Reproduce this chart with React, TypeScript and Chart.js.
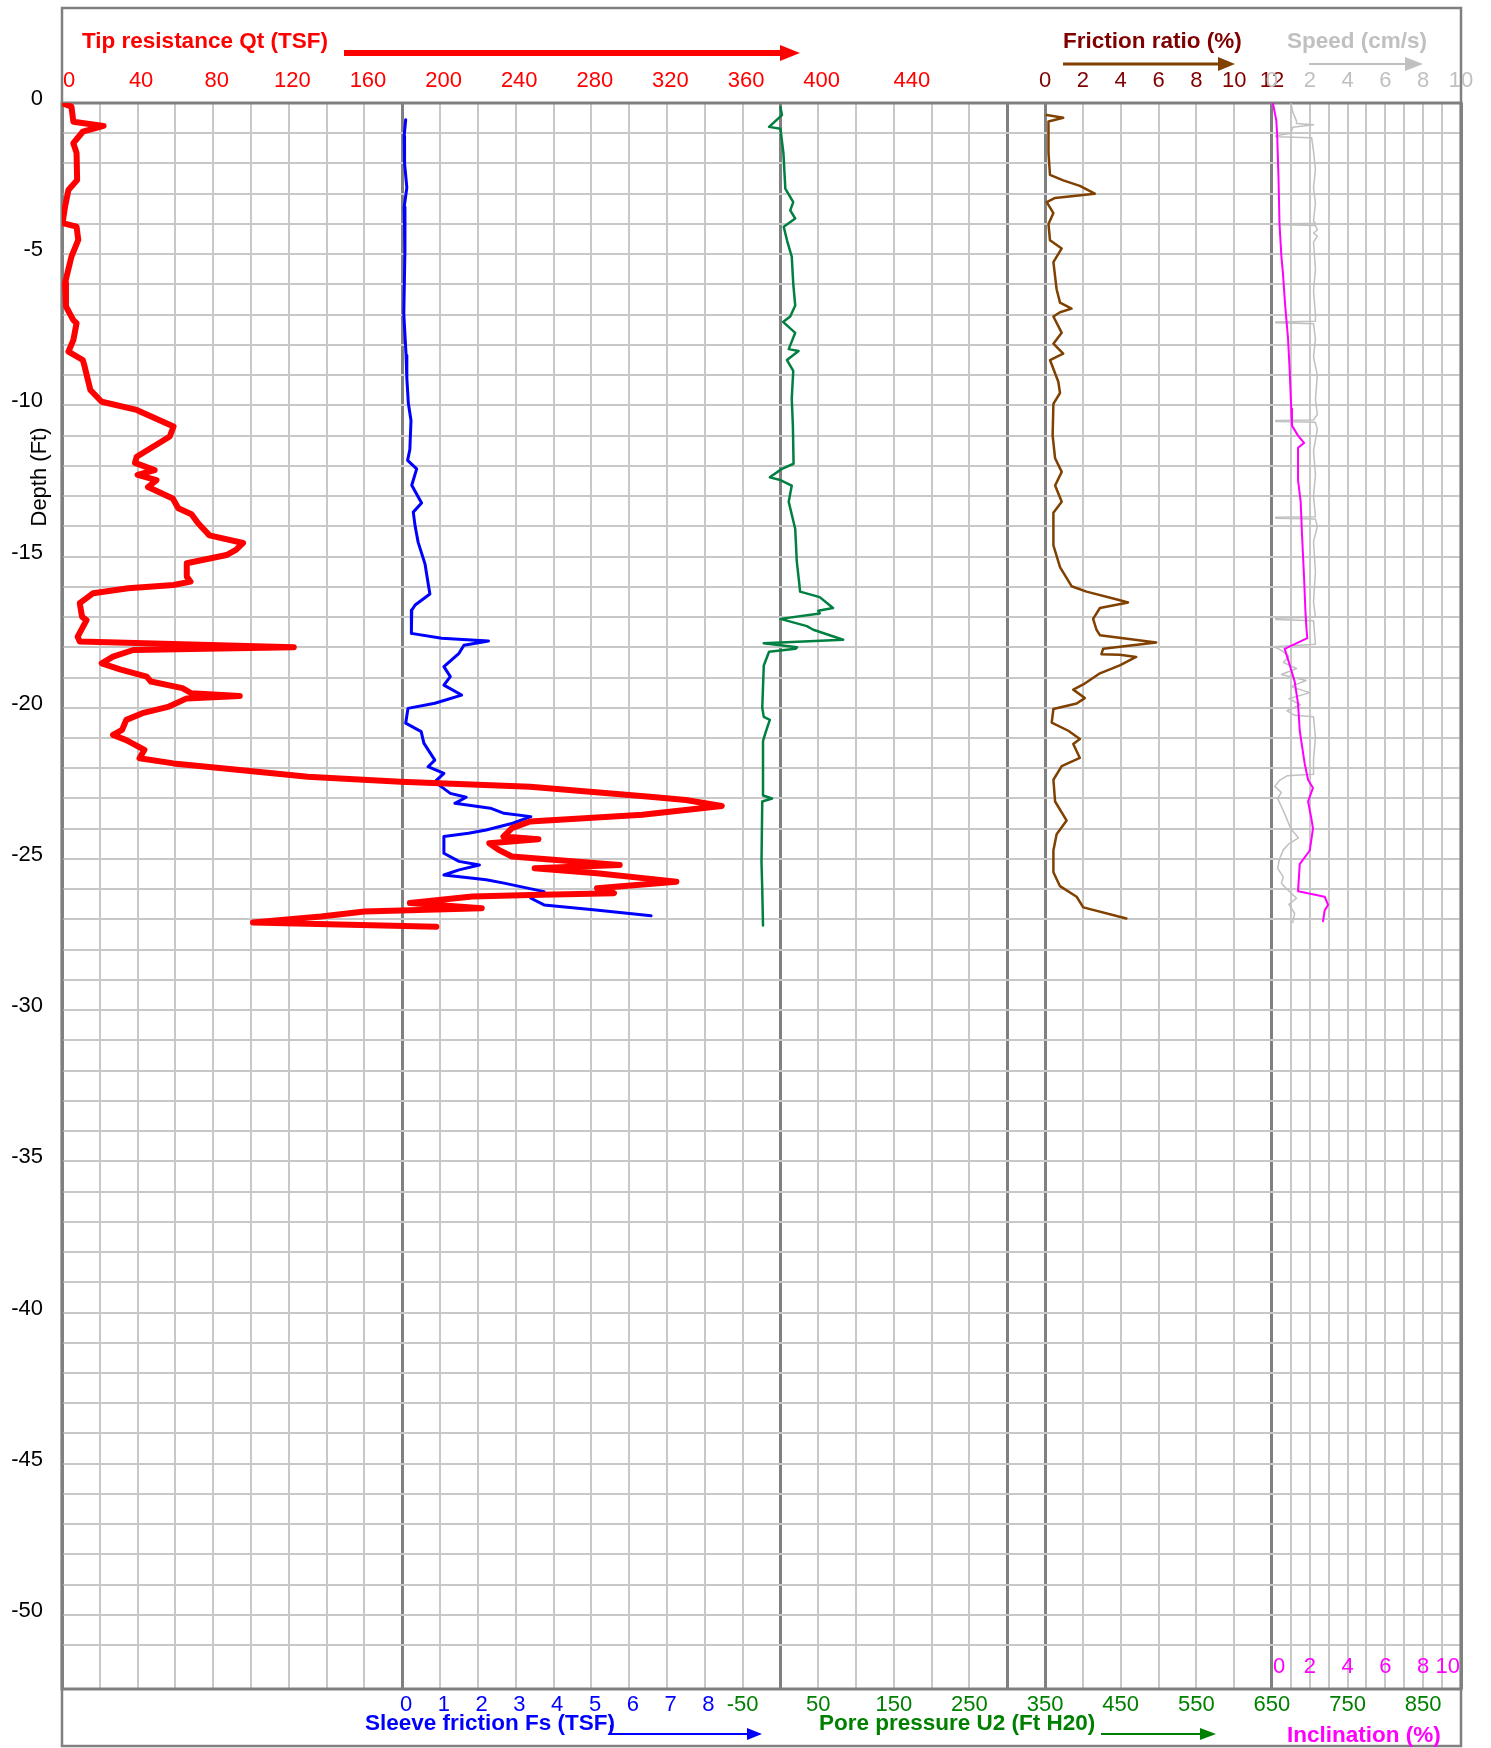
import React, { useEffect, useRef } from 'react';
import { Chart, registerables } from 'chart.js';

Chart.register(...registerables);

const FONT = "'Liberation Sans', Arial, sans-serif";

// [depth (ft, negative downward), value]
const tipResistance: [number, number][] = [
  [0, 0], [-0.12, 5], [-0.62, 6], [-0.76, 22], [-0.95, 11], [-1.33, 6], [-1.65, 7.7], [-2.55, 8],
  [-2.88, 3.4], [-3.43, 1.6], [-3.97, 0.3], [-4.09, 7.7], [-4.53, 8.6], [-5.08, 5], [-5.95, 1.6],
  [-6.73, 2.1], [-7.18, 6], [-7.28, 7.7], [-7.84, 6], [-8.22, 3.4], [-8.5, 11], [-8.72, 12],
  [-9.49, 15], [-9.88, 21], [-10.15, 39.5], [-10.7, 59], [-11.03, 57], [-11.7, 39.5], [-11.9, 38.6],
  [-12.14, 49], [-12.3, 40], [-12.47, 50], [-12.7, 45.5], [-13.08, 58.6], [-13.4, 61.5], [-13.6, 68.5],
  [-13.9, 72], [-14.3, 78], [-14.55, 95.8], [-14.78, 92], [-14.95, 87], [-15.22, 66], [-15.66, 66],
  [-15.83, 68], [-15.94, 59], [-16.05, 35], [-16.21, 16.5], [-16.54, 9.4], [-16.99, 10.6], [-17.1, 13],
  [-17.65, 8.3], [-17.81, 9.4], [-18.0, 122.6], [-18.09, 37.7], [-18.31, 27], [-18.53, 21], [-18.73, 30.7],
  [-18.97, 44.8], [-19.13, 47], [-19.35, 63.7], [-19.52, 68.4], [-19.61, 94], [-19.69, 66], [-19.96, 56.6],
  [-20.18, 42.5], [-20.4, 34], [-20.73, 31.8], [-20.9, 27], [-21.07, 34], [-21.39, 43.6], [-21.67, 41],
  [-21.84, 59], [-22.06, 94], [-22.28, 130], [-22.45, 179], [-22.61, 247.6], [-22.94, 311], [-23.05, 330],
  [-23.25, 349], [-23.54, 307], [-23.76, 247.6], [-23.98, 238], [-24.26, 233.5], [-24.35, 252], [-24.48, 226],
  [-24.7, 231], [-24.92, 238], [-25.2, 295], [-25.31, 250], [-25.47, 283], [-25.75, 325], [-25.97, 283],
  [-26.13, 292], [-26.19, 247.6], [-26.24, 217], [-26.46, 184], [-26.63, 222], [-26.74, 160], [-26.9, 137],
  [-27.1, 101], [-27.24, 198],
];

const sleeveFriction: [number, number][] = [
  [-0.55, 0.09], [-1.08, 0.05], [-2.0, 0.06], [-2.8, 0.12], [-3.44, 0.05], [-4.86, 0.07], [-6.98, 0.04],
  [-8.34, 0.1], [-9.1, 0.12], [-9.93, 0.16], [-10.5, 0.23], [-11.46, 0.2], [-11.82, 0.14], [-12.1, 0.38],
  [-12.64, 0.25], [-13.23, 0.51], [-13.53, 0.29], [-14.0, 0.34], [-14.53, 0.42], [-15.24, 0.6], [-15.94, 0.69],
  [-16.24, 0.73], [-16.6, 0.34], [-16.77, 0.25], [-17.54, 0.24], [-17.7, 1.04], [-17.79, 2.28], [-17.93, 1.63],
  [-18.2, 1.5], [-18.64, 1.1], [-18.97, 1.27], [-19.25, 1.1], [-19.58, 1.57], [-19.85, 0.86], [-20.02, 0.15],
  [-20.51, 0.09], [-20.79, 0.5], [-21.17, 0.57], [-21.73, 0.86], [-21.95, 0.68], [-22.17, 1.1], [-22.45, 0.86],
  [-22.83, 1.27], [-22.96, 1.69], [-23.16, 1.39], [-23.32, 2.33], [-23.49, 2.69], [-23.6, 3.4], [-23.82, 2.92],
  [-24.04, 2.22], [-24.15, 1.75], [-24.26, 1.1], [-24.81, 1.1], [-25.08, 1.5], [-25.2, 2.04], [-25.36, 1.5],
  [-25.53, 1.1], [-25.69, 2.22], [-25.8, 2.69], [-26.08, 3.75], [-26.3, 3.4], [-26.52, 3.75], [-26.68, 5.05],
  [-26.88, 6.58],
];

const porePressure: [number, number][] = [
  [-0.13, 0], [-0.4, 2], [-0.79, -15], [-0.85, 0], [-1.66, 4], [-2.83, 6.5], [-3.28, 17], [-3.55, 13],
  [-3.82, 19.6], [-4.09, 4.4], [-4.54, 8.7], [-5.08, 15], [-5.98, 17], [-6.7, 19.6], [-7.06, 13], [-7.24, 3.5],
  [-7.6, 19.6], [-8.14, 11], [-8.2, 24], [-8.5, 8.7], [-8.86, 17], [-9.77, 15], [-10.67, 16.5], [-11.93, 17.4],
  [-12.1, 2], [-12.38, -14], [-12.47, 0], [-12.65, 15], [-13.19, 11], [-14.09, 19.6], [-15.17, 21.7],
  [-15.9, 25], [-16.16, 26], [-16.34, 52], [-16.7, 69.6], [-16.79, 50], [-16.88, 52], [-17.06, 0],
  [-17.3, 35], [-17.42, 43.5], [-17.75, 83], [-17.87, -22], [-18.0, 22], [-18.05, 20], [-18.15, -15],
  [-18.6, -22], [-20.0, -24], [-20.3, -22], [-20.4, -14], [-20.85, -20], [-21.1, -23], [-22.9, -23],
  [-23.0, -11], [-23.1, -24], [-25.1, -25], [-26.0, -24], [-27.2, -23],
];

const frictionRatio: [number, number][] = [
  [-0.4, 0.09], [-0.49, 0.96], [-0.61, 0.18], [-1.66, 0.18], [-2.38, 0.26], [-2.56, 0.96], [-2.74, 1.84],
  [-3.0, 2.63], [-3.14, 0.53], [-3.28, 0.09], [-3.64, 0.44], [-4.0, 0.18], [-4.54, 0.26], [-4.81, 0.88],
  [-5.26, 0.44], [-6.16, 0.61], [-6.6, 0.79], [-6.8, 1.4], [-6.92, 0.79], [-7.06, 0.44], [-7.6, 0.88],
  [-7.96, 0.44], [-8.29, 0.96], [-8.5, 0.26], [-9.22, 0.7], [-9.59, 0.79], [-9.95, 0.44], [-11.0, 0.4],
  [-11.75, 0.53], [-12.2, 0.88], [-12.65, 0.53], [-13.19, 0.88], [-13.55, 0.44], [-14.63, 0.44],
  [-15.35, 0.79], [-15.98, 1.4], [-16.16, 2.19], [-16.43, 3.86], [-16.52, 4.39], [-16.7, 2.9], [-17.06, 2.54],
  [-17.42, 2.72], [-17.6, 2.9], [-17.84, 5.88], [-18.05, 3.07], [-18.23, 2.98], [-18.25, 3.95], [-18.32, 4.82],
  [-18.6, 3.95], [-18.86, 2.9], [-19.23, 2.02], [-19.4, 1.49], [-19.68, 2.1], [-19.86, 1.67], [-20.04, 0.44],
  [-20.49, 0.35], [-20.76, 1.23], [-21.03, 1.84], [-21.2, 1.49], [-21.66, 1.84], [-21.93, 0.88], [-22.38, 0.44],
  [-23.1, 0.53], [-23.73, 1.14], [-24.18, 0.61], [-24.72, 0.44], [-25.44, 0.44], [-25.9, 0.79], [-26.25, 1.67],
  [-26.6, 2.02], [-26.97, 4.3],
];

const penetrationSpeed: [number, number][] = [
  [0, 1.0], [-0.3, 1.1], [-0.6, 1.3], [-0.68, 1.3], [-0.72, 2.2], [-0.8, 1.1], [-1.0, 1.0], [-1.08, 0.2],
  [-1.12, 0.2], [-1.15, 2.1], [-1.6, 2.2], [-2.2, 2.3], [-2.8, 2.2], [-3.3, 2.3], [-3.9, 2.2], [-3.98, 2.3],
  [-4.0, 0.2], [-4.02, 0.2], [-4.05, 2.3], [-4.2, 2.4], [-4.3, 2.2], [-4.4, 2.4], [-4.6, 2.2], [-5.5, 2.3],
  [-6.2, 2.2], [-7.0, 2.3], [-7.22, 2.3], [-7.24, 0.2], [-7.27, 0.2], [-7.3, 2.2], [-7.8, 2.3], [-8.4, 2.2],
  [-9.0, 2.4], [-9.8, 2.3], [-10.3, 2.4], [-10.48, 2.2], [-10.5, 0.2], [-10.53, 0.2], [-10.56, 2.3],
  [-10.8, 2.4], [-11.5, 2.2], [-12.3, 2.3], [-13.0, 2.2], [-13.68, 2.3], [-13.7, 0.2], [-13.73, 0.2],
  [-13.76, 2.3], [-14.0, 2.4], [-14.5, 2.2], [-15.5, 2.3], [-16.5, 2.2], [-17.0, 2.3], [-17.04, 0.2],
  [-17.08, 0.2], [-17.12, 2.2], [-17.9, 2.3], [-17.98, 0.1], [-18.1, 0.5], [-18.3, 0.9], [-18.5, 0.6],
  [-18.7, 1.3], [-18.9, 0.5], [-19.1, 1.8], [-19.3, 1.0], [-19.5, 2.0], [-19.7, 0.9], [-19.9, 1.5],
  [-20.1, 0.8], [-20.25, 1.2], [-20.3, 2.2], [-21.0, 2.3], [-21.7, 2.2], [-22.2, 2.2], [-22.25, 0.8],
  [-22.4, 0.4], [-22.6, 0.15], [-22.8, 0.5], [-23.0, 0.3], [-23.4, 0.6], [-23.7, 0.8], [-24.0, 1.0],
  [-24.3, 1.4], [-24.5, 0.9], [-24.7, 0.6], [-25.0, 0.4], [-25.3, 0.3], [-25.6, 0.6], [-25.8, 0.5],
  [-26.0, 0.8], [-26.3, 1.3], [-26.5, 0.9], [-26.8, 1.2], [-27.1, 1.1],
];

const inclination: [number, number][] = [
  [0, 0.05], [-0.58, 0.23], [-1.1, 0.28], [-2.56, 0.35], [-4.0, 0.4], [-5.08, 0.5], [-5.62, 0.58],
  [-6.7, 0.7], [-7.78, 0.85], [-8.86, 0.94], [-10.1, 1.02], [-10.67, 1.06], [-11.0, 1.38], [-11.24, 1.7],
  [-11.4, 1.38], [-12.47, 1.38], [-13.19, 1.52], [-14.27, 1.59], [-15.71, 1.7], [-16.79, 1.77],
  [-17.33, 1.82], [-17.7, 1.87], [-18.05, 0.67], [-18.4, 0.85], [-19.13, 1.2], [-19.86, 1.38],
  [-20.76, 1.47], [-21.84, 1.73], [-22.38, 1.91], [-22.65, 2.17], [-23.1, 1.91], [-23.64, 2.08],
  [-24.0, 2.17], [-24.72, 2.0], [-25.17, 1.47], [-26.07, 1.38], [-26.25, 2.79], [-26.52, 2.97],
  [-26.7, 2.79], [-27.06, 2.7],
];

// tick labels
const depthTicks = [0, -5, -10, -15, -20, -25, -30, -35, -40, -45, -50];
const qtTicks = [0, 40, 80, 120, 160, 200, 240, 280, 320, 360, 400, 440];
const fsTicks = [0, 1, 2, 3, 4, 5, 6, 7, 8];
const u2Ticks = [-50, 50, 150, 250, 350, 450, 550, 650, 750, 850];
const rfTicks = [0, 2, 4, 6, 8, 10, 12];
const speedTicks = [0, 2, 4, 6, 8, 10];
const inclinationTicks = [0, 2, 4, 6, 8, 10];
const depthMin = -52.45;
const depthMax = 0;

// panel layout on a common grid (grid units)
const GRID_MAX = 37;
const DARK_LINES = [0, 9, 19, 25, 26, 32, 37];
const FINE_FROM = 32;

function drawArrow(ctx: CanvasRenderingContext2D, x1: number, x2: number, y: number, lw: number, head: number, half: number, color: string) {
  ctx.save();
  ctx.strokeStyle = color;
  ctx.fillStyle = color;
  ctx.lineWidth = lw;
  ctx.beginPath();
  ctx.moveTo(x1, y);
  ctx.lineTo(x2 - head + 2, y);
  ctx.stroke();
  ctx.beginPath();
  ctx.moveTo(x2 - head, y - half);
  ctx.lineTo(x2, y);
  ctx.lineTo(x2 - head, y + half);
  ctx.closePath();
  ctx.fill();
  ctx.restore();
}

function text(ctx: CanvasRenderingContext2D, s: string, x: number, y: number, font: string, color: string, align: CanvasTextAlign = 'center') {
  ctx.font = font;
  ctx.fillStyle = color;
  ctx.textAlign = align;
  ctx.textBaseline = 'alphabetic';
  ctx.fillText(s, x, y);
}

const decorPlugin = {
  id: 'cptDecor',
  beforeDraw(chart: any) {
    const ctx = chart.ctx as CanvasRenderingContext2D;
    const a = chart.chartArea;
    ctx.save();
    ctx.fillStyle = '#ffffff';
    ctx.fillRect(0, 0, chart.width, chart.height);
    ctx.strokeStyle = '#808080';
    ctx.lineWidth = 2.5;
    ctx.strokeRect(a.left, 8, a.right - a.left, chart.height - 2 - 8);
    ctx.restore();
  },
  beforeDatasetsDraw(chart: any) {
    const ctx = chart.ctx as CanvasRenderingContext2D;
    const a = chart.chartArea;
    ctx.save();
    ctx.strokeStyle = '#808080';
    ctx.lineWidth = 3;
    ctx.strokeRect(a.left, a.top, a.right - a.left, a.bottom - a.top);
    ctx.restore();
  },
  afterDraw(chart: any) {
    const ctx = chart.ctx as CanvasRenderingContext2D;
    const s = chart.scales;
    const a = chart.chartArea;
    const tickFont = `22px ${FONT}`;
    const titleFont = `bold 22.5px ${FONT}`;
    ctx.save();

    // depth labels
    depthTicks.forEach((v) => text(ctx, String(v), a.left - 19, s.y.getPixelForValue(v) + 2, tickFont, '#000000', 'right'));

    // top titles
    text(ctx, 'Tip resistance Qt (TSF)', 82, 48, titleFont, '#ff0000', 'left');
    drawArrow(ctx, 344, 800, 53, 6, 20, 8, '#ff0000');
    text(ctx, 'Friction ratio (%)', 1063, 48, titleFont, '#800000', 'left');
    drawArrow(ctx, 1063, 1235, 64, 3, 17, 7, '#804000');
    text(ctx, 'Speed (cm/s)', 1287, 48, titleFont, '#c0c0c0', 'left');
    drawArrow(ctx, 1309, 1423, 64, 2, 18, 7, '#c0c0c0');

    // Qt labels
    qtTicks.forEach((v, i) => {
      const x = s.xQt.getPixelForValue(v);
      if (i === 0) text(ctx, String(v), x + 1, 87, tickFont, '#ff0000', 'left');
      else text(ctx, String(v), x + (v === 440 ? 18 : 3.5), 87, tickFont, '#ff0000');
    });
    rfTicks.forEach((v) => text(ctx, String(v), s.xRf.getPixelForValue(v), 87, tickFont, '#800000'));
    speedTicks.forEach((v) => text(ctx, String(v), s.xSpd.getPixelForValue(v), 87, tickFont, '#c0c0c0'));

    // bottom labels
    fsTicks.forEach((v) => text(ctx, String(v), s.xFs.getPixelForValue(v) + 3.7, 1711, tickFont, '#0000ff'));
    u2Ticks.forEach((v) => text(ctx, String(v), s.xU2.getPixelForValue(v), 1711, tickFont, '#008000'));
    inclinationTicks.forEach((v, i) => {
      const x = s.xInc.getPixelForValue(v);
      if (i === 0) text(ctx, String(v), x + 1, 1673, tickFont, '#ff00ff', 'left');
      else if (i === inclinationTicks.length - 1) text(ctx, String(v), x - 1, 1673, tickFont, '#ff00ff', 'right');
      else text(ctx, String(v), x, 1673, tickFont, '#ff00ff');
    });

    text(ctx, 'Sleeve friction Fs (TSF)', 365, 1730, titleFont, '#0000ff', 'left');
    ctx.strokeStyle = '#0000ff';
    ctx.lineWidth = 2;
    ctx.beginPath();
    ctx.moveTo(611, 1725);
    ctx.lineTo(611, 1734);
    ctx.stroke();
    drawArrow(ctx, 610, 762, 1734, 2, 15, 6, '#0000ff');
    text(ctx, 'Pore pressure U2 (Ft H20)', 819, 1730, titleFont, '#008000', 'left');
    drawArrow(ctx, 1101, 1216, 1734, 2, 16, 6, '#008000');
    text(ctx, 'Inclination (%)', 1287, 1742, titleFont, '#ff00ff', 'left');

    // depth axis title
    ctx.save();
    ctx.translate(46, 477);
    ctx.rotate(-Math.PI / 2);
    text(ctx, 'Depth (Ft)', 0, 0, `22px ${FONT}`, '#000000');
    ctx.restore();

    ctx.restore();
  },
};

function series(points: [number, number][]) {
  return points.map(([d, v]) => ({ x: v, y: d }));
}

export default function App() {
  const ref = useRef<HTMLCanvasElement | null>(null);

  useEffect(() => {
    document.body.style.margin = '0';
    const canvas = ref.current;
    if (!canvas) return;
    Chart.defaults.font.family = FONT;

    const hidden = (min: number, max: number) => ({ type: 'linear', axis: 'x', display: false, min, max });
    const line = (label: string, data: [number, number][], axis: string, color: string, width: number) => ({
      label,
      data: series(data),
      xAxisID: axis,
      yAxisID: 'y',
      showLine: true,
      borderColor: color,
      backgroundColor: color,
      borderWidth: width,
      pointRadius: 0,
      pointHoverRadius: 0,
      tension: 0,
      fill: false,
      borderJoinStyle: 'round',
      borderCapStyle: 'round',
    });

    const chart = new Chart(canvas, {
      type: 'scatter',
      data: {
        datasets: [
          line('Tip resistance Qt (TSF)', tipResistance, 'xQt', '#ff0000', 6),
          line('Sleeve friction Fs (TSF)', sleeveFriction, 'xFs', '#0000ff', 3),
          line('Pore pressure U2 (Ft H20)', porePressure, 'xU2', '#008040', 2.5),
          line('Friction ratio (%)', frictionRatio, 'xRf', '#804000', 2.5),
          line('Inclination (%)', inclination, 'xInc', '#ff00ff', 2),
          line('Speed (cm/s)', penetrationSpeed, 'xSpd', '#c0c0c0', 1.5),
        ] as any,
      },
      options: {
        responsive: false,
        animation: false,
        devicePixelRatio: 1,
        layout: { padding: { left: 62, top: 103, right: 30, bottom: 59 } },
        plugins: { legend: { display: false }, tooltip: { enabled: false } },
        events: [],
        scales: {
          x: {
            type: 'linear',
            axis: 'x',
            position: 'bottom',
            min: 0,
            max: GRID_MAX,
            ticks: { display: false, stepSize: 0.5, autoSkip: false, maxTicksLimit: 200 },
            grid: {
              drawTicks: false,
              color: (c: any) => {
                const v = c.tick ? c.tick.value : 0;
                if (DARK_LINES.some((d) => Math.abs(d - v) < 1e-6)) return '#808080';
                if (Math.abs(v - Math.round(v)) > 1e-6 && v < FINE_FROM) return 'rgba(0,0,0,0)';
                return '#c8c8c8';
              },
              lineWidth: (c: any) => {
                const v = c.tick ? c.tick.value : 0;
                return DARK_LINES.some((d) => Math.abs(d - v) < 1e-6) ? 3 : 2;
              },
            },
            border: { display: false },
            afterFit: (sc: any) => { sc.height = 0; },
          },
          xQt: hidden(0, 740),
          xFs: hidden(-9, 28),
          xU2: hidden(-950, 900),
          xRf: hidden(-52, 22),
          xSpd: hidden(-64, 10),
          xInc: hidden(-64, 10),
          y: {
            type: 'linear',
            position: 'left',
            min: depthMin,
            max: depthMax,
            ticks: { display: false, stepSize: 1, autoSkip: false, maxTicksLimit: 200 },
            grid: { color: '#c8c8c8', lineWidth: 2, drawTicks: false },
            border: { display: false },
            afterFit: (sc: any) => { sc.width = 0; },
          },
        } as any,
      },
      plugins: [decorPlugin],
    });

    return () => chart.destroy();
  }, []);

  return (
    <div style={{ position: 'absolute', left: 0, top: 0, width: 1491, height: 1748 }}>
      <canvas ref={ref} width={1491} height={1748} style={{ display: 'block', width: 1491, height: 1748 }} />
    </div>
  );
}
